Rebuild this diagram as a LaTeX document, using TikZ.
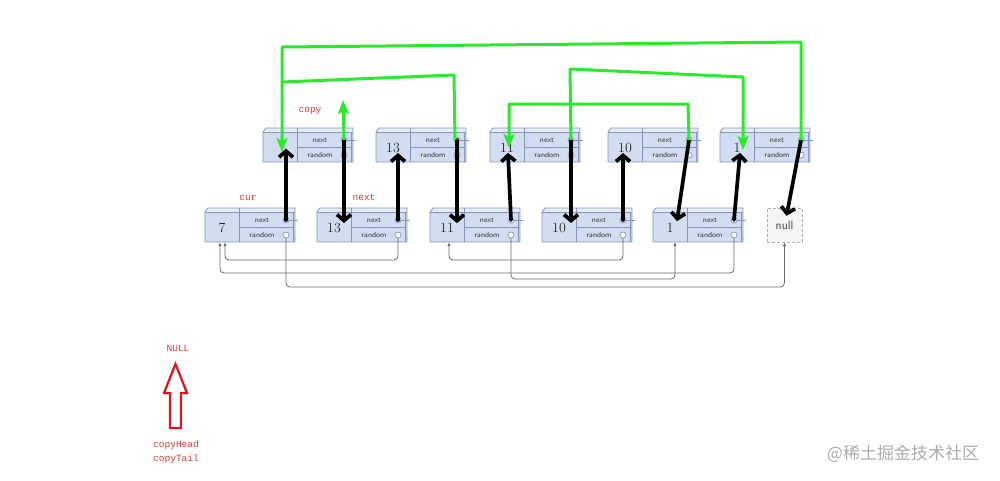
\documentclass[tikz,border=0pt]{standalone}
\usepackage{fontspec}
\newfontfamily\cjk{Noto Sans CJK SC}
\newfontfamily\monof{Liberation Mono}
\usetikzlibrary{arrows.meta}
\definecolor{boxfill}{HTML}{D3DDF1}
\definecolor{boxtop}{HTML}{E6ECF8}
\definecolor{boxline}{HTML}{8696BA}
\definecolor{ggreen}{HTML}{2EE82E}
\definecolor{lblred}{HTML}{E03838}
\definecolor{arrred}{HTML}{E0141E}
\definecolor{ptrgray}{HTML}{6A6A6A}
\tikzset{
  bline/.style={line width=3.7pt, black, -{Straight Barb[length=6pt,width=14pt]}, line cap=round},
  gline/.style={line width=3pt, ggreen, line join=round},
  garrow/.style={gline, -{Stealth[length=14pt,width=11pt,inset=3pt]}},
  rptr/.style={ptrgray, line width=0.8pt, rounded corners=4pt, -{Latex[length=4pt,width=3.5pt]}},
  lbl/.style={text=lblred, font=\monof\fontsize{9.5}{10}\selectfont, inner sep=0},
  fieldtxt/.style={font=\sffamily\fontsize{7.5}{8}\selectfont, text=black!80, inner sep=0},
  valtxt/.style={font=\fontsize{14}{15}\selectfont, text=black!85, inner sep=0},
  pcircle/.style={circle, draw=boxline, fill=white, inner sep=0, minimum size=6pt, line width=0.7pt},
}
\newcommand\listbox[4]{%
  \begin{scope}[shift={(#2,#3)}]
    \path node[inner sep=0, minimum width=90pt, minimum height=34pt] (#1) at (45,17) {};
    \fill[boxfill] (0,4) rectangle (90,34);
    \fill[boxtop] (0,4) -- (3,0) -- (90,0) -- (90,4) -- cycle;
    \draw[boxline, line width=0.8pt] (0,4) -- (3,0) -- (90,0) -- (90,34) -- (0,34) -- cycle;
    \draw[boxline, line width=0.7pt] (0,4) -- (90,4) (34,0) -- (34,34) (34,19) -- (88,19) (88,4) -- (88,34);
    \node[valtxt] (#1-v) at (17,20) {#4};
    \node[fieldtxt] (#1-nt) at (57,12) {next};
    \node[fieldtxt] (#1-rt) at (57,27) {random};
    \node[pcircle] (#1-n) at (81,12) {};
    \node[pcircle] (#1-r) at (81,27) {};
    \draw[boxline, line width=0.7pt] (#1-n.east) -- (93,12);
  \end{scope}}
\begin{document}
\begin{tikzpicture}[x=1pt, y=-1pt]
\useasboundingbox (0,0) rectangle (1000,480);
\fill[white] (0,0) rectangle (1000,480);

% copies (top row)
\listbox{t1}{263}{128}{}
\listbox{t2}{376}{128}{13}
\listbox{t3}{490}{128}{11}
\listbox{t4}{608}{128}{10}
\listbox{t5}{720}{128}{1}
% originals (bottom row)
\listbox{b1}{205}{208}{7}
\listbox{b2}{317}{208}{13}
\listbox{b3}{430}{208}{11}
\listbox{b4}{542}{208}{10}
\listbox{b5}{653}{208}{1}
\node[draw=gray!60, densely dashed, fill=gray!8, minimum width=35pt, minimum height=34pt,
      font=\sffamily\fontsize{12}{13}\selectfont, text=black!75] (nul) at (784.5,225) {null};

% random pointers of the original list
\coordinate (h1) at (500,287);
\coordinate (h2) at (300,260);
\coordinate (h3) at (500,273);
\coordinate (h4) at (530,260);
\coordinate (h5) at (600,279);
\draw[rptr] (b1-r.south) |- (h1) -| (nul.south);
\draw[rptr] (b2-r.south) |- (h2) -| ([xshift=-25pt]b1.south);
\draw[rptr] (b5-r.south) |- (h3) -| ([xshift=-30pt]b1.south);
\draw[rptr] (b4-r.south) |- (h4) -| ([xshift=-26pt]b3.south);
\draw[rptr] (b3-r.south) |- (h5) -| ([xshift=-23pt]b5.south);

% black next pointers
\draw[bline] (b1-n.center) -- (t1-v.south -| b1-n);
\draw[bline] (t1-n.center) -- (b2-v.north -| t1-n);
\draw[bline] (b2-n.center) -- (t2-v.south -| b2-n);
\draw[bline] (t2-n.center) -- (b3-v.north -| t2-n);
\draw[bline] (b3-n.center) -- ([xshift=-3pt]t3-v.south -| b3-n);
\draw[bline] (t3-n.center) -- (b4-v.north -| t3-n);
\draw[bline] (b4-n.center) -- (t4-v.south -| b4-n);
\draw[bline] (t4-n.center) -- ([xshift=7pt,yshift=2pt]b5-v.north);
\draw[bline] (b5-n.center) -- ([xshift=3pt]t5-v.south);
\draw[bline] (t5-n.center) -- ([shift={(2pt,-8pt)}]nul.north);

% green random pointers of the copies
\coordinate (g1a) at (801,42);
\coordinate (g1b) at (282,47);
\coordinate (g2a) at (454,75);
\coordinate (g2b) at (282,82);
\coordinate (g3) at (343,100);
\coordinate (g4a) at (688,104);
\coordinate (g4b) at (509,104);
\coordinate (g5a) at (570,69);
\coordinate (g5b) at (743,77);
\draw[garrow] (t5-n.center) -- (g1a) -- (g1b) -- ([yshift=-4pt]t1-v.center -| g1b);
\draw[gline] ([xshift=-2pt]t2-n.center) -- (g2a) -- (g2b);
\draw[garrow] (t1-n.center) -- (g3);
\draw[garrow] (t4-n.center) -- (g4a) -- (g4b) -- (t3-v.center -| g4b);
\draw[garrow] (t3-n.center) -- (g5a) -- (g5b) -- ([yshift=-2pt]t5-v.center -| g5b);

% labels
\node[lbl] (lcopy) at (310,111) {copy};
\node[lbl] (lcur) at (248,198) {cur};
\node[lbl] (lnext) at (364,197) {next};
\node[lbl] (lnull) at (178,348) {NULL};
\node[lbl, anchor=west] (lhead) at (153,445) {copyHead};
\node[lbl, anchor=west] (ltail) at (153,459) {copyTail};

% hollow red arrow
\draw[arrred, line width=2.2pt, line join=miter] (175.5,364) -- (187,393) -- (181,393) -- (181,428)
  -- (170,428) -- (170,393) -- (164,393) -- cycle;

% watermark
\node[text=gray!65, font=\cjk\fontsize{17}{18}\selectfont, inner sep=0] (wm) at (903,454) {@稀土掘金技术社区};
\end{tikzpicture}
\end{document}
